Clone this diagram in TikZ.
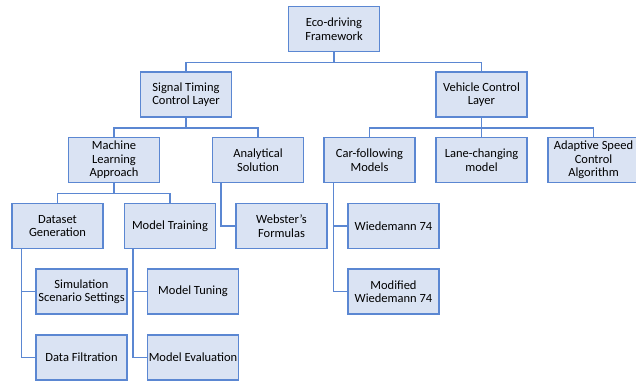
\documentclass[tikz,border=0pt]{standalone}
\usepackage{fontspec}
\setmainfont{Carlito}
\definecolor{boxfill}{HTML}{DAE3F3}
\definecolor{boxline}{HTML}{5B87D2}
\tikzset{
  box/.style={draw=boxline, fill=boxfill, line width=1.5pt, rectangle,
    minimum width=91pt, minimum height=45pt, align=center, inner xsep=1pt,
    font=\fontsize{12.5}{13.5}\selectfont, text=black},
  conn/.style={draw=boxline, line width=1.5pt}
}
\begin{document}
\begin{tikzpicture}[x=1pt,y=-1pt]
\useasboundingbox (0,0) rectangle (636,384);
\node[box] (eco) at (334,29) {Eco-driving\\Framework};
\node[box] (stc) at (186,94.5) {Signal Timing\\Control Layer};
\node[box] (vcl) at (481.5,94.5) {Vehicle Control\\Layer};
\node[box] (ml) at (114,160) {Machine\\Learning\\Approach};
\node[box] (as) at (258,160) {Analytical\\Solution};
\node[box] (cf) at (369.5,160) {Car-following\\Models};
\node[box] (lc) at (481.5,160) {Lane-changing\\model};
\node[box] (asc) at (593.5,160) {Adaptive Speed\\Control\\Algorithm};
\node[box] (dg) at (57.5,226) {Dataset\\Generation};
\node[box] (mt) at (170,226) {Model Training};
\node[box] (wf) at (281.5,226) {Webster’s\\Formulas};
\node[box] (w74) at (393.5,226) {Wiedemann 74};
\node[box] (sim) at (81.5,291.5) {Simulation\\Scenario Settings};
\node[box] (df) at (81.5,357.5) {Data Filtration};
\node[box] (mtu) at (193,291.5) {Model Tuning};
\node[box] (me) at (193,357.5) {Model Evaluation};
\node[box] (mw) at (393.5,291.5) {Modified\\Wiedemann 74};
% connectors
\draw[conn] (eco.south) -- ++(0,10) -| (stc.north);
\draw[conn] (eco.south) ++(0,10) -| (vcl.north);
\draw[conn] (stc.south) -- ++(0,10) -| (ml.north);
\draw[conn] (stc.south) ++(0,10) -| (as.north);
\draw[conn] (vcl.south) -- ++(0,10) -| (cf.north);
\draw[conn] (vcl.south) -- (lc.north);
\draw[conn] (vcl.south) ++(0,10) -| (asc.north);
\draw[conn] (ml.south) -- ++(0,10) -| (dg.north);
\draw[conn] (ml.south) ++(0,10) -| (mt.north);
\draw[conn] ([xshift=9pt]as.south west) |- (wf.west);
\draw[conn] ([xshift=10pt]dg.south west) |- (sim.west);
\draw[conn] ([xshift=10pt]dg.south west) |- (df.west);
\draw[conn] ([xshift=9pt]mt.south west) |- (mtu.west);
\draw[conn] ([xshift=9pt]mt.south west) |- (me.west);
\draw[conn] ([xshift=10pt]cf.south west) |- (w74.west);
\draw[conn] ([xshift=10pt]cf.south west) |- (mw.west);
\end{tikzpicture}
\end{document}
